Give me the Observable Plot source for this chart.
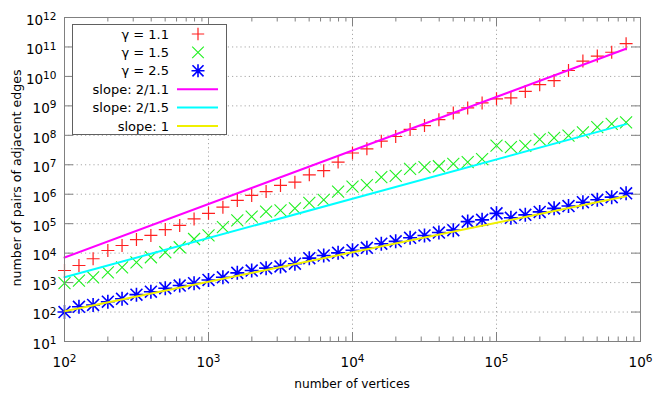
<!DOCTYPE html>
<html>
<head>
<meta charset="utf-8">
<script src="https://cdn.jsdelivr.net/npm/d3@7"></script>
<script src="https://cdn.jsdelivr.net/npm/@observablehq/plot@0.6"></script>
<style>
  html, body { margin: 0; padding: 0; background: #fff; }
  #chart svg { display: block; }
</style>
</head>
<body>
<div id="chart"></div>
<script>
// ---- data ----
const vertices = [100, 126, 158, 200, 251, 316, 398, 501, 631, 794,
  1000, 1259, 1585, 1995, 2512, 3162, 3981, 5012, 6310, 7943,
  10000, 12589, 15849, 19953, 25119, 31623, 39811, 50119, 63096, 79433,
  100000, 125893, 158489, 199526, 251189, 316228, 398107, 501187, 630957, 794328];

const pairsGamma11 = [2570, 3800, 6460, 12300, 18200, 28800, 39800, 63100, 87100, 144500,
  223900, 363100, 616600, 912000, 1230000, 1995000, 2570000, 4571000, 6310000, 12300000,
  25100000, 34700000, 63100000, 91200000, 158500000, 213800000, 338800000, 575400000, 851100000, 1259000000,
  1738000000, 1862000000, 3090000000, 5248000000, 7244000000, 15850000000, 33110000000, 48980000000, 66070000000, 128800000000];

const pairsGamma15 = [955, 1175, 1514, 2239, 3311, 4898, 7244, 10720, 15850, 30200,
  39810, 75860, 128800, 173800, 257000, 281800, 331100, 512900, 645700, 1230000,
  1820000, 2040000, 3802000, 4169000, 7244000, 8318000, 8913000, 10720000, 12300000, 15490000,
  44670000, 39810000, 43650000, 72440000, 81280000, 97720000, 125900000, 190500000, 245500000, 275400000];

const pairsGamma25 = [100, 151, 174, 224, 282, 389, 490, 646, 794, 955,
  1230, 1514, 2138, 2570, 3090, 3548, 4365, 6761, 8318, 10230,
  12590, 15140, 20890, 25120, 33110, 39810, 50120, 60260, 117500, 134900,
  223900, 158500, 199500, 251200, 331100, 398100, 537000, 645700, 794300, 1072000];

// fitted reference lines: start and end points
const lineX = [100, 794328];
const slope11 = [7080, 87100000000];
const slope15 = [1514, 240000000];
const slope1 = [107, 851000];

const legendLabels = ["γ = 1.1", "γ = 1.5", "γ = 2.5", "slope: 2/1.1", "slope: 2/1.5", "slope: 1"];
const xMajor = [1e2, 1e3, 1e4, 1e5, 1e6];
const yMajor = [1e1, 1e2, 1e3, 1e4, 1e5, 1e6, 1e7, 1e8, 1e9, 1e10, 1e11, 1e12];
const xMinorMult = [2, 3, 4, 5, 6, 7, 8, 9];
const xMinor = [1e2, 1e3, 1e4, 1e5].flatMap(d => xMinorMult.map(m => d * m));

// ---- tables ----
const pts = (ys) => vertices.map((x, i) => ({x, y: ys[i]}));
const seg = (ys) => lineX.map((x, i) => ({x, y: ys[i]}));

// ---- gnuplot-like point symbols ----
const symPlus = {draw(c, s) { const r = Math.sqrt(s / Math.PI); c.moveTo(-r, 0); c.lineTo(r, 0); c.moveTo(0, -r); c.lineTo(0, r); }};
const symTimes = {draw(c, s) { const r = Math.sqrt(s / Math.PI); c.moveTo(-r, -r); c.lineTo(r, r); c.moveTo(-r, r); c.lineTo(r, -r); }};
const symStar = {draw(c, s) { const r = Math.sqrt(s / Math.PI); const q = r * 0.85;
  c.moveTo(-r, 0); c.lineTo(r, 0); c.moveTo(0, -r); c.lineTo(0, r);
  c.moveTo(-q, -q); c.lineTo(q, q); c.moveTo(-q, q); c.lineTo(q, -q); }};

const W = 664, H = 399, ML = 64, MR = 24, MT = 17, MB = 58;
const PW = W - ML - MR, PH = H - MT - MB;
const axisGray = "#808080";
const FONT = "DejaVu Sans, sans-serif";

const colors = {red: "#ff2020", green: "#20f020", blue: "#0000ff", magenta: "#ff00ff", cyan: "#00ffff", yellow: "#f0f000"};

const plot = Plot.plot({
  width: W, height: H,
  marginLeft: ML, marginRight: MR, marginTop: MT, marginBottom: MB,
  style: {fontFamily: FONT, fontSize: "13px", background: "#fff", color: "#000", overflow: "visible"},
  x: {type: "log", domain: [1e2, 1e6]},
  y: {type: "log", domain: [1e1, 1e12]},
  marks: [
    Plot.gridX(xMajor, {stroke: "#a8a8a8", strokeOpacity: 1, strokeWidth: 1, strokeDasharray: "1.2,3"}),
    Plot.gridY(yMajor, {stroke: "#a8a8a8", strokeOpacity: 1, strokeWidth: 1, strokeDasharray: "1.2,3"}),
    // ticks (inward, mirrored)
    Plot.tickX(xMajor, {stroke: axisGray, insetTop: PH - 9}),
    Plot.tickX(xMajor, {stroke: axisGray, insetBottom: PH - 9}),
    Plot.tickX(xMinor, {stroke: axisGray, insetTop: PH - 4.5}),
    Plot.tickX(xMinor, {stroke: axisGray, insetBottom: PH - 4.5}),
    Plot.tickY(yMajor, {stroke: axisGray, insetRight: PW - 9}),
    Plot.tickY(yMajor, {stroke: axisGray, insetLeft: PW - 9}),
    Plot.axisX(xMajor, {tickSize: 0, tickPadding: 16, tickFormat: d => "10^" + Math.round(Math.log10(d)), fontSize: 13.5, label: null}),
    Plot.axisY(yMajor, {tickSize: 0, tickPadding: 8, dy: 3, tickFormat: d => "10^" + Math.round(Math.log10(d)), fontSize: 13.5, label: null}),
    // data points
    Plot.dot(pts(pairsGamma11), {x: "x", y: "y", symbol: symPlus, r: 6.5, fill: "none", stroke: colors.red, strokeWidth: 1.2}),
    Plot.dot(pts(pairsGamma15), {x: "x", y: "y", symbol: symTimes, r: 6, fill: "none", stroke: colors.green, strokeWidth: 1.1}),
    Plot.dot(pts(pairsGamma25), {x: "x", y: "y", symbol: symStar, r: 7, fill: "none", stroke: colors.blue, strokeWidth: 1.6}),
    // slope lines
    Plot.line(seg(slope11), {x: "x", y: "y", stroke: colors.magenta, strokeWidth: 2}),
    Plot.line(seg(slope15), {x: "x", y: "y", stroke: colors.cyan, strokeWidth: 2}),
    Plot.line(seg(slope1), {x: "x", y: "y", stroke: colors.yellow, strokeWidth: 2}),
    Plot.frame({stroke: axisGray, strokeWidth: 1})
  ]
});

// superscript exponents in tick labels
const NS = "http://www.w3.org/2000/svg";
plot.querySelectorAll("text").forEach(t => {
  const m = /^10\^(\d+)$/.exec(t.textContent);
  if (m) {
    t.textContent = "10";
    const sp = document.createElementNS(NS, "tspan");
    sp.setAttribute("dy", "-0.45em");
    sp.setAttribute("font-size", "0.78em");
    sp.textContent = m[1];
    t.appendChild(sp);
  }
});

const svg = d3.select(plot);

// axis titles
svg.append("text").attr("x", 352).attr("y", 388).attr("text-anchor", "middle")
  .attr("font-family", FONT).attr("font-size", 12.2).attr("fill", "#000").text("number of vertices");
svg.append("text").attr("transform", "translate(21,178) rotate(-90)").attr("text-anchor", "middle")
  .attr("font-family", FONT).attr("font-size", 12.6).attr("fill", "#000").text("number of pairs of adjacent edges");

// legend
const lg = svg.append("g").attr("font-family", FONT).attr("font-size", 13);
lg.append("rect").attr("x", 72.5).attr("y", 24.5).attr("width", 154).attr("height", 110)
  .attr("fill", "#fff").attr("stroke", "#606060").attr("stroke-width", 1);
const rowY = [34, 52.4, 70.8, 89.2, 107.6, 126];
const legSym = [
  {sym: symPlus, r: 6.2, color: colors.red, w: 1.2},
  {sym: symTimes, r: 5.8, color: colors.green, w: 1.1},
  {sym: symStar, r: 6.5, color: colors.blue, w: 1.6}
];
const legLine = [colors.magenta, colors.cyan, colors.yellow];
legendLabels.forEach((lab, i) => {
  lg.append("text").attr("x", 169).attr("y", rowY[i]).attr("dy", "0.35em")
    .attr("text-anchor", "end").attr("fill", "#000").text(lab);
  if (i < 3) {
    const s = legSym[i];
    lg.append("path").attr("d", d3.symbol(s.sym, Math.PI * s.r * s.r)())
      .attr("transform", `translate(198,${rowY[i]})`)
      .attr("fill", "none").attr("stroke", s.color).attr("stroke-width", s.w);
  } else {
    lg.append("line").attr("x1", 177).attr("x2", 218).attr("y1", rowY[i]).attr("y2", rowY[i])
      .attr("stroke", legLine[i - 3]).attr("stroke-width", 2);
  }
});

document.getElementById("chart").appendChild(plot);
</script>
</body>
</html>
